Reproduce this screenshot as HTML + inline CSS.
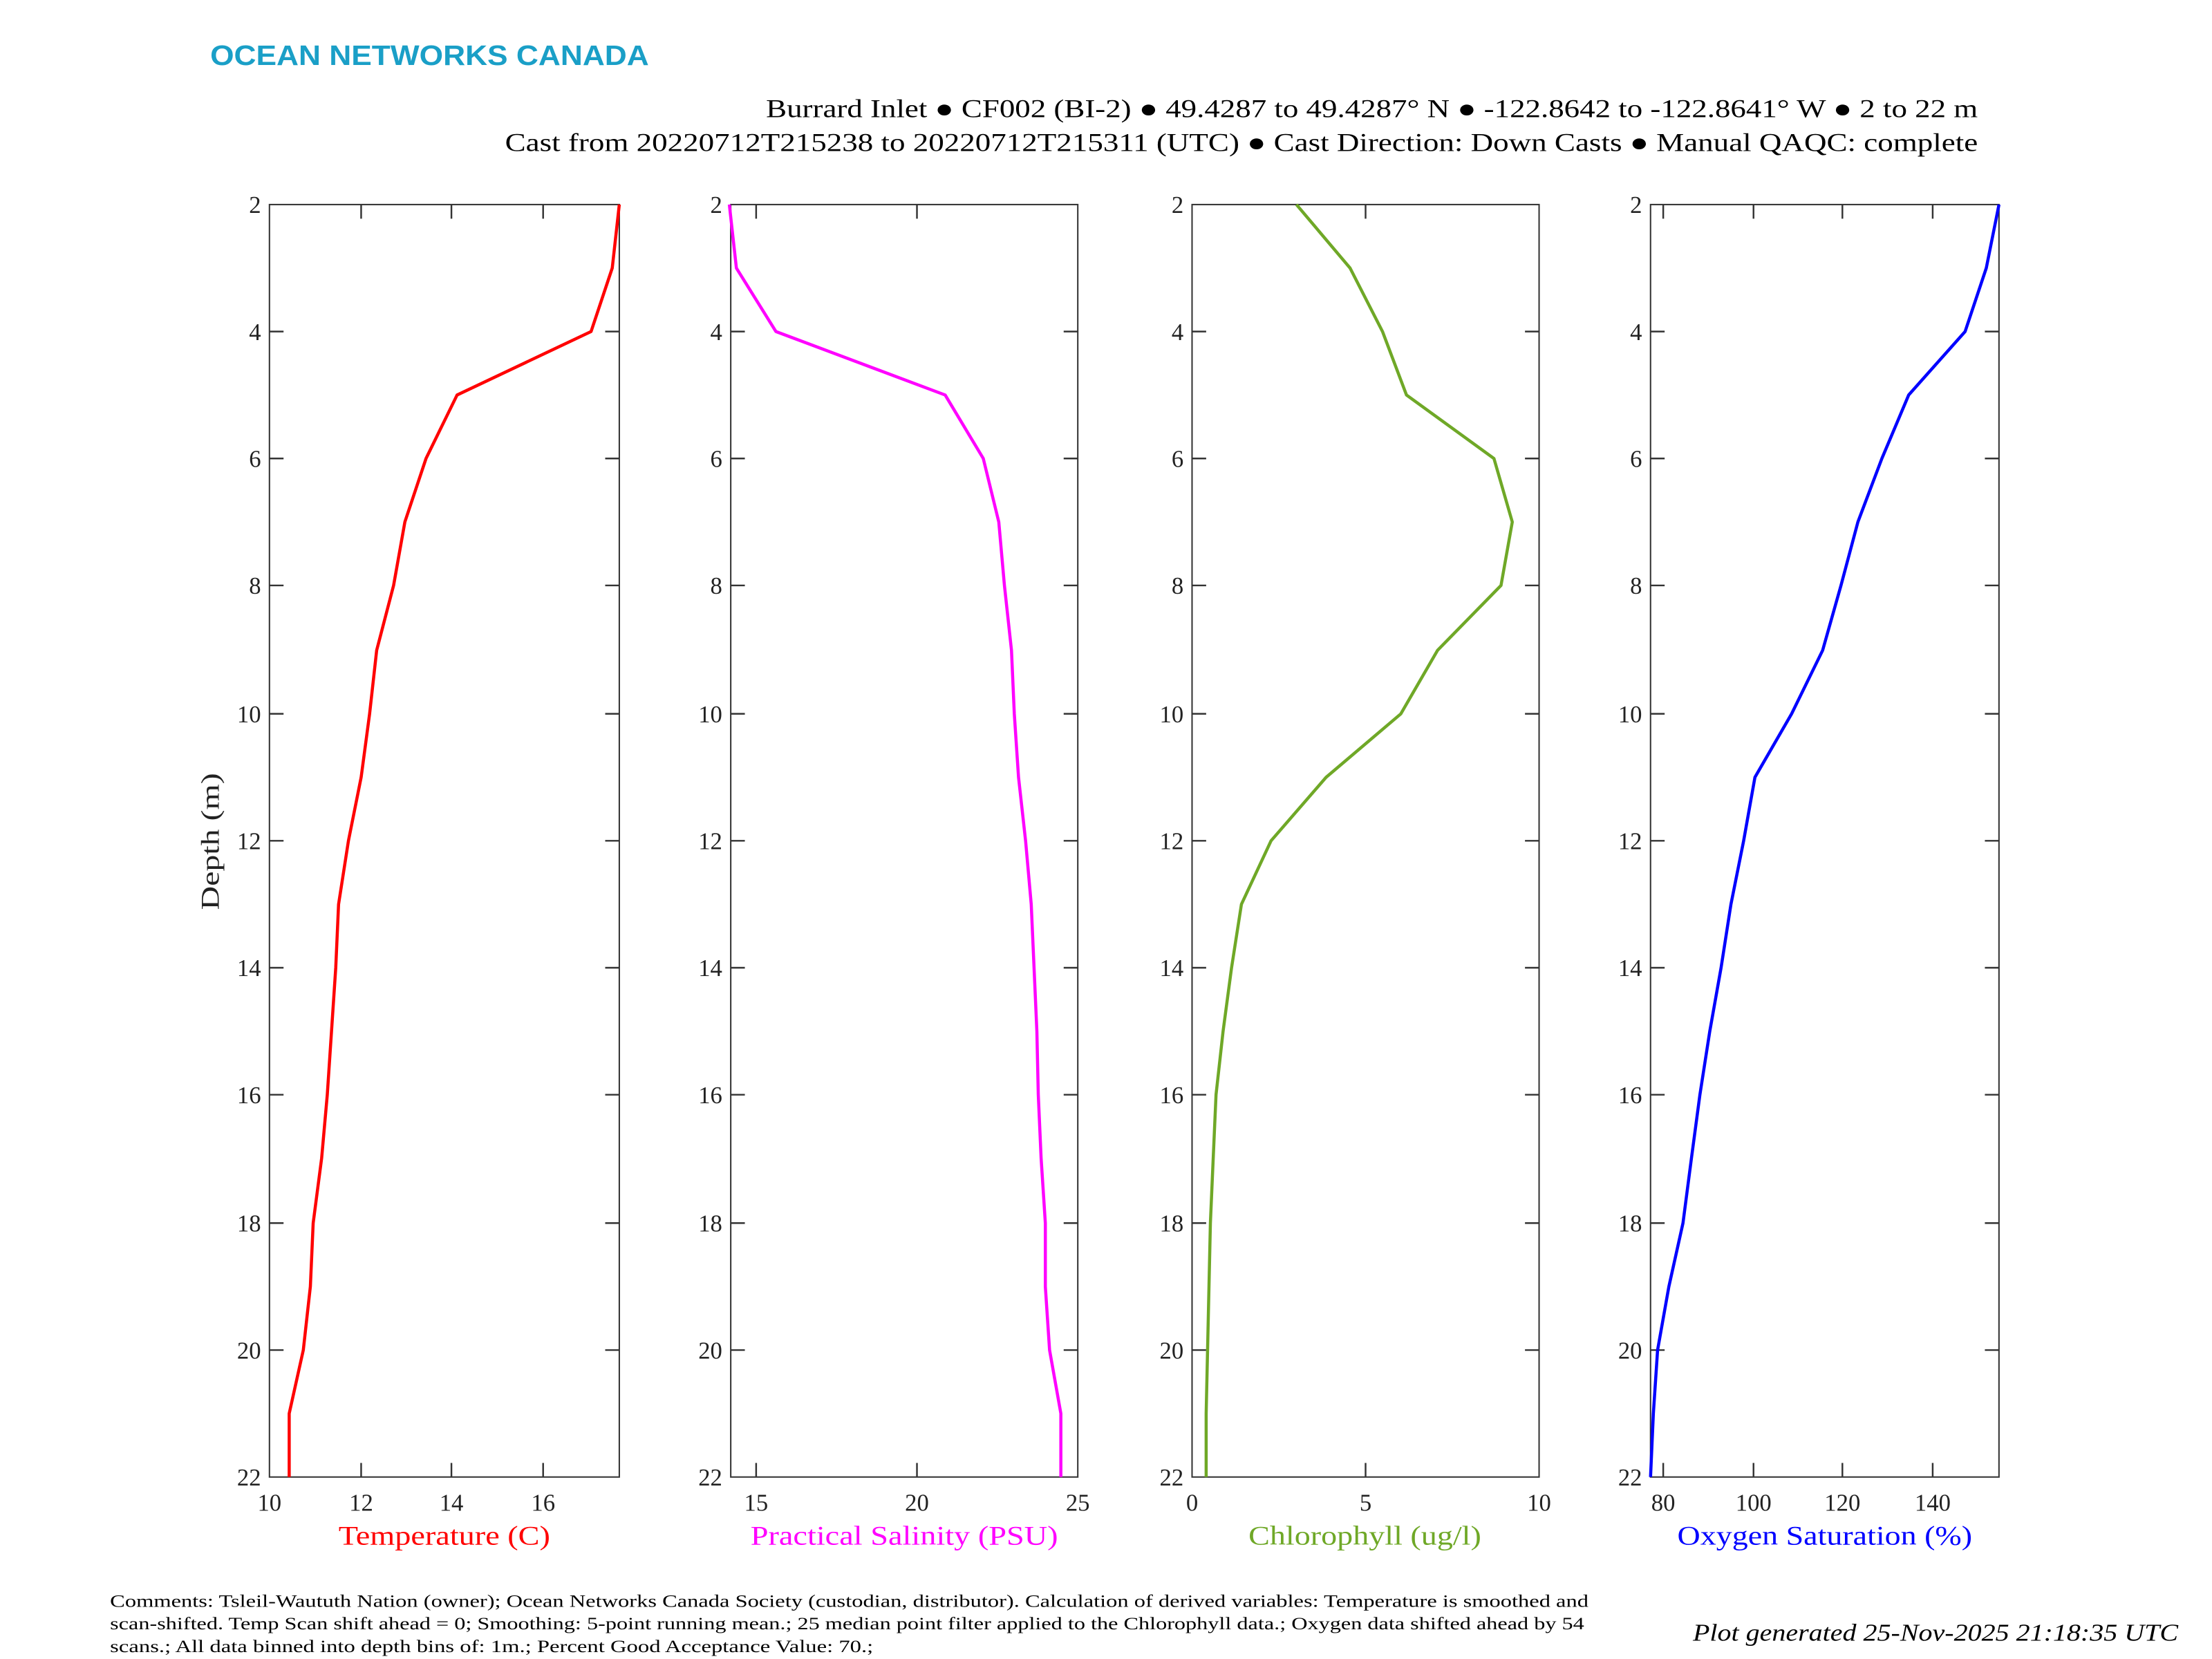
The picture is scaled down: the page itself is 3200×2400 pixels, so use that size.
<!DOCTYPE html>
<html><head><meta charset="utf-8"><style>
html,body{margin:0;padding:0;background:#fff;}
svg{display:block;}
text{font-family:"Liberation Serif",serif;}
</style></head><body>
<svg width="3200" height="2400" viewBox="0 0 1568 1176" xmlns="http://www.w3.org/2000/svg">
<rect width="1568" height="1176" fill="#fff"/>
<text x="149" y="46" font-weight="bold" font-size="20" fill="#1a9fc7" style="font-family:'Liberation Sans',sans-serif" textLength="311" lengthAdjust="spacingAndGlyphs">OCEAN NETWORKS CANADA</text>
<text x="543" y="83" font-size="18" fill="#000" textLength="859" lengthAdjust="spacingAndGlyphs">Burrard Inlet ● CF002 (BI-2) ● 49.4287 to 49.4287° N ● -122.8642 to -122.8641° W ● 2 to 22 m</text>
<text x="358" y="107" font-size="18" fill="#000" textLength="1044" lengthAdjust="spacingAndGlyphs">Cast from 20220712T215238 to 20220712T215311 (UTC) ● Cast Direction: Down Casts ● Manual QAQC: complete</text>

<g stroke="#333" stroke-width="1" fill="none">
<rect x="191" y="145" width="248" height="902"/>
<rect x="518" y="145" width="246" height="902"/>
<rect x="845" y="145" width="246" height="902"/>
<rect x="1170" y="145" width="247" height="902"/>
</g>
<g stroke="#333" stroke-width="1.2">
<path d="M191 235h10M191 325h10M191 415h10M191 506h10M191 596h10M191 686h10M191 776h10M191 867h10M191 957h10 M439 235h-10M439 325h-10M439 415h-10M439 506h-10M439 596h-10M439 686h-10M439 776h-10M439 867h-10M439 957h-10"/>
<path d="M518 235h10M518 325h10M518 415h10M518 506h10M518 596h10M518 686h10M518 776h10M518 867h10M518 957h10 M764 235h-10M764 325h-10M764 415h-10M764 506h-10M764 596h-10M764 686h-10M764 776h-10M764 867h-10M764 957h-10"/>
<path d="M845 235h10M845 325h10M845 415h10M845 506h10M845 596h10M845 686h10M845 776h10M845 867h10M845 957h10 M1091 235h-10M1091 325h-10M1091 415h-10M1091 506h-10M1091 596h-10M1091 686h-10M1091 776h-10M1091 867h-10M1091 957h-10"/>
<path d="M1170 235h10M1170 325h10M1170 415h10M1170 506h10M1170 596h10M1170 686h10M1170 776h10M1170 867h10M1170 957h10 M1417 235h-10M1417 325h-10M1417 415h-10M1417 506h-10M1417 596h-10M1417 686h-10M1417 776h-10M1417 867h-10M1417 957h-10"/>
<path d="M256 145v10M320 145v10M385 145v10M256 1047v-10M320 1047v-10M385 1047v-10"/>
<path d="M536 145v10M650 145v10M536 1047v-10M650 1047v-10"/>
<path d="M968 145v10M968 1047v-10"/>
<path d="M1179 145v10M1243 145v10M1306 145v10M1370 145v10M1179 1047v-10M1243 1047v-10M1306 1047v-10M1370 1047v-10"/>
</g>
<g font-size="17" fill="#222" text-anchor="end">
<g id="yl1">
<text x="185" y="151">2</text><text x="185" y="241">4</text><text x="185" y="331">6</text><text x="185" y="421">8</text><text x="185" y="512">10</text><text x="185" y="602">12</text><text x="185" y="692">14</text><text x="185" y="782">16</text><text x="185" y="873">18</text><text x="185" y="963">20</text><text x="185" y="1053">22</text>
</g>
<use href="#yl1" x="327"/><use href="#yl1" x="654"/><use href="#yl1" x="979"/>
</g>
<g font-size="17" fill="#222" text-anchor="middle">
<text x="191" y="1071">10</text><text x="256" y="1071">12</text><text x="320" y="1071">14</text><text x="385" y="1071">16</text>
<text x="536" y="1071">15</text><text x="650" y="1071">20</text><text x="764" y="1071">25</text>
<text x="845" y="1071">0</text><text x="968" y="1071">5</text><text x="1091" y="1071">10</text>
<text x="1179" y="1071">80</text><text x="1243" y="1071">100</text><text x="1306" y="1071">120</text><text x="1370" y="1071">140</text>
</g>
<text transform="translate(155,548) rotate(-90)" font-size="18" text-anchor="end" fill="#222" textLength="97" lengthAdjust="spacingAndGlyphs">Depth (m)</text>
<g font-size="19">
<text x="240" y="1095" fill="#ff0000" textLength="150" lengthAdjust="spacingAndGlyphs">Temperature (C)</text>
<text x="532" y="1095" fill="#ff00ff" textLength="218" lengthAdjust="spacingAndGlyphs">Practical Salinity (PSU)</text>
<text x="885" y="1095" fill="#6fa827" textLength="165" lengthAdjust="spacingAndGlyphs">Chlorophyll (ug/l)</text>
<text x="1189" y="1095" fill="#0000ff" textLength="209" lengthAdjust="spacingAndGlyphs">Oxygen Saturation (%)</text>
</g>
<g fill="none" stroke-width="2.2" stroke-linejoin="round">
<polyline stroke="#ff0000" points="439,145 434,190 419,235 324,280 302,325 287,370 279,415 267,461 262,506 256,551 247,596 240,641 238,686 235,731 232,776 228,821 222,867 220,912 215,957 205,1002 205,1047"/>
<polyline stroke="#ff00ff" points="517,145 522,190 550,235 670,280 697,325 708,370 712,415 717,461 719,506 722,551 727,596 731,641 733,686 735,731 736,776 738,821 741,867 741,912 744,957 752,1002 752,1047"/>
<polyline stroke="#6fa827" points="919,145 957,190 980,235 997,280 1059,325 1072,370 1064,415 1019,461 993,506 940,551 901,596 880,641 873,686 867,731 862,776 860,821 858,867 857,912 856,957 855,1002 855,1047"/>
<polyline stroke="#0000ff" points="1417,145 1408,190 1393,235 1353,280 1334,325 1317,370 1305,415 1292,461 1270,506 1244,551 1236,596 1227,641 1220,686 1212,731 1205,776 1199,821 1193,867 1183,912 1175,957 1172,1002 1170,1047"/>
</g>
<g font-size="12.5" fill="#000">
<text x="78" y="1139" textLength="1048" lengthAdjust="spacingAndGlyphs">Comments: Tsleil-Waututh Nation (owner); Ocean Networks Canada Society (custodian, distributor). Calculation of derived variables: Temperature is smoothed and</text>
<text x="78" y="1155" textLength="1045" lengthAdjust="spacingAndGlyphs">scan-shifted. Temp Scan shift ahead = 0; Smoothing: 5-point running mean.; 25 median point filter applied to the Chlorophyll data.; Oxygen data shifted ahead by 54</text>
<text x="78" y="1171" textLength="541" lengthAdjust="spacingAndGlyphs">scans.; All data binned into depth bins of: 1m.; Percent Good Acceptance Value: 70.;</text>
</g>
<text x="1200" y="1163" font-size="17" font-style="italic" fill="#000" textLength="344" lengthAdjust="spacingAndGlyphs">Plot generated 25-Nov-2025 21:18:35 UTC</text>
</svg>
</body></html>
